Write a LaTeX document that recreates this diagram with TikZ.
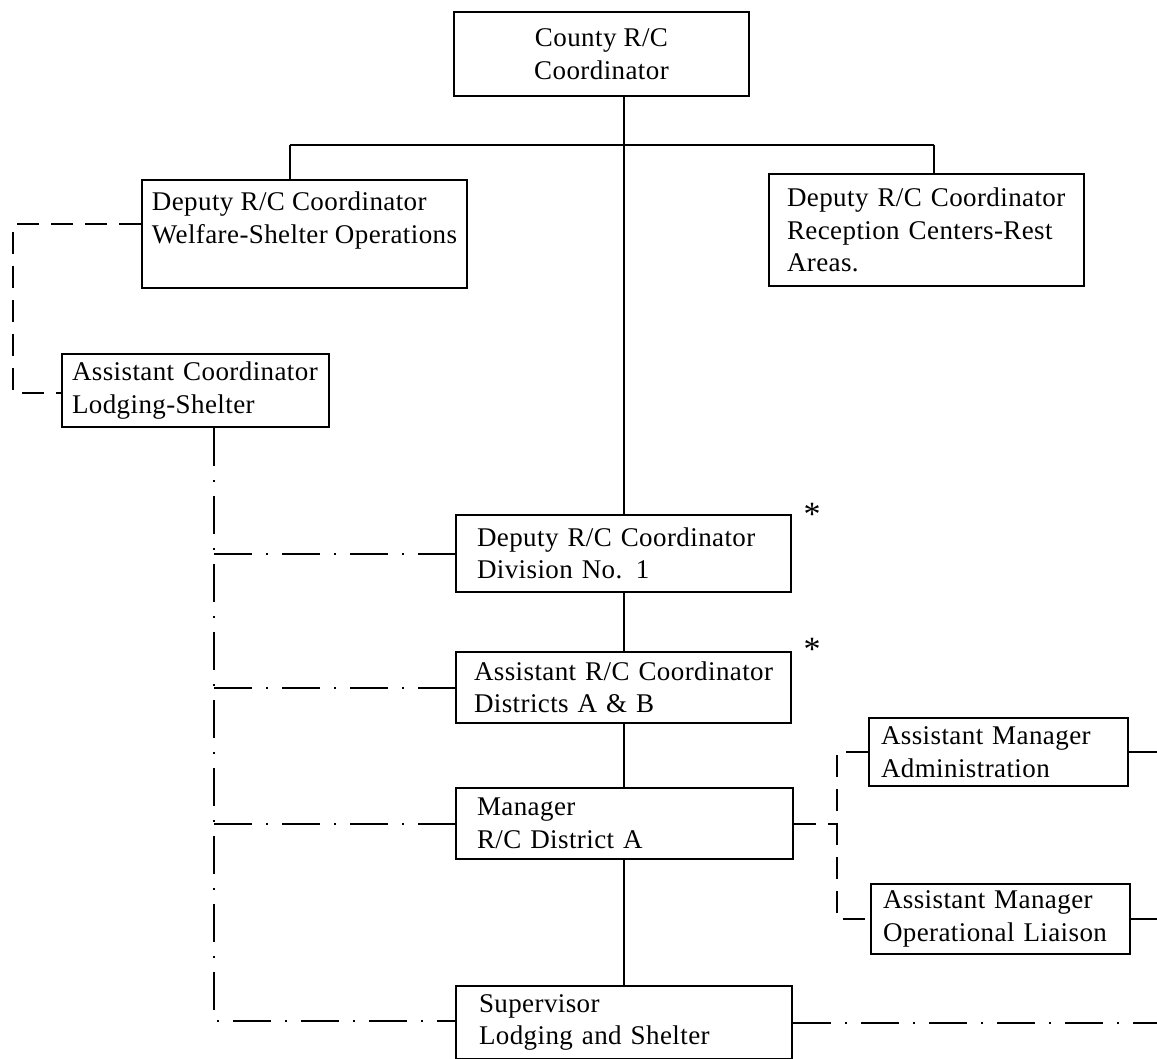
\documentclass[tikz,border=0pt]{standalone}
\usepackage{fontspec}
\setmainfont{Liberation Serif}[LetterSpace=1.5]

\begin{document}
\begin{tikzpicture}[x=0.5pt,y=-0.5pt]
\tikzset{unit/.style = {draw, line width=1pt, anchor=north west, align=left, inner ysep=2pt, font=\fontsize{13.5}{16.25}\selectfont}}
\tikzset{link/.style = {line width=1pt}}
\tikzset{staff/.style = {line width=1pt, dash pattern=on 11pt off 6pt}}
\tikzset{lodging/.style = {line width=1pt, dash pattern=on 19pt off 7pt on 1pt off 7pt}}
\useasboundingbox (0,0) rectangle (1157,1059);
% boxes
\node[unit, align=center, minimum width=147.5pt, minimum height=42pt](county) at (453,11) {County R/C\\Coordinator};
\node[unit, inner xsep=4pt, minimum width=162.5pt, minimum height=54pt](depL) at (141,179) {Deputy R/C Coordinator\\Welfare-Shelter Operations\\~};
\node[unit, inner xsep=9pt, text width=139.5pt, minimum height=56pt](depR) at (768,173) {Deputy R/C Coordinator\\Reception Centers-Rest\\Areas.};
\node[unit, inner xsep=5pt, text width=123.5pt, minimum height=36.5pt](asstC) at (61,353) {Assistant Coordinator\\Lodging-Shelter};
\node[unit, inner xsep=10.5pt, text width=146.5pt, minimum height=38.5pt](div) at (455,514) {Deputy R/C Coordinator\\Division No. 1};
\node[unit, inner xsep=9pt, text width=149.5pt, minimum height=35.5pt](dist) at (455,651) {Assistant R/C Coordinator\\Districts A \& B};
\node[unit, inner xsep=10.5pt, text width=147.5pt, minimum height=35.5pt](mgr) at (455,787) {Manager\\R/C District A};
\node[unit, inner xsep=11.5pt, text width=145pt, minimum height=36.5pt](sup) at (455,985) {Supervisor\\Lodging and Shelter};
\node[unit, inner xsep=6pt, text width=117.5pt, minimum height=34pt](admin) at (868,717) {Assistant Manager\\Administration};
\node[unit, inner xsep=6pt, text width=117.5pt, minimum height=35pt](liaison) at (870,883) {Assistant Manager\\Operational Liaison};
\node[font=\fontsize{17}{18}\selectfont](starDiv) at (812,514) {*};
\node[font=\fontsize{17}{18}\selectfont](starDist) at (812,649) {*};
% line of command
\coordinate (forkL) at (290,145);
\coordinate (forkR) at (934,145);
\draw[link] (county.south -| div.north) -- (div.north);
\draw[link] (forkL) -- (forkR);
\draw[link] (forkL) -- (forkL |- depL.north);
\draw[link] (forkR) -- (forkR |- depR.north);
\draw[link] (div.south) -- (div.south |- dist.north);
\draw[link] (dist.south) -- (dist.south |- mgr.north);
\draw[link] (mgr.south -| div.south) -- (sup.north -| div.south);
% staff lines
\coordinate (bendL) at (13,393);
\coordinate (bus) at (837,0);
\draw[staff] ([yshift=5pt]depL.west) -| (bendL) -- (bendL -| asstC.west);
\draw[staff] (mgr.east) -- (mgr.east -| bus);
\draw[staff] (admin.west) -- (admin.west -| bus) -- (liaison.west -| bus) -- (liaison.west);
% lodging and shelter lines
\coordinate (spine) at (214,1021);
\coordinate (edge) at (1157,0);
\draw[lodging] (asstC.south -| spine) -- (spine) -- (spine -| sup.west);
\foreach \u in {div, dist, mgr}
  \draw[lodging] (spine |- \u.west) -- (\u.west);
\draw[lodging] (admin.east) -- (admin.east -| edge);
\draw[lodging] (liaison.east) -- (liaison.east -| edge);
\draw[lodging] (sup.east) -- (sup.east -| edge);
\end{tikzpicture}
\end{document}
